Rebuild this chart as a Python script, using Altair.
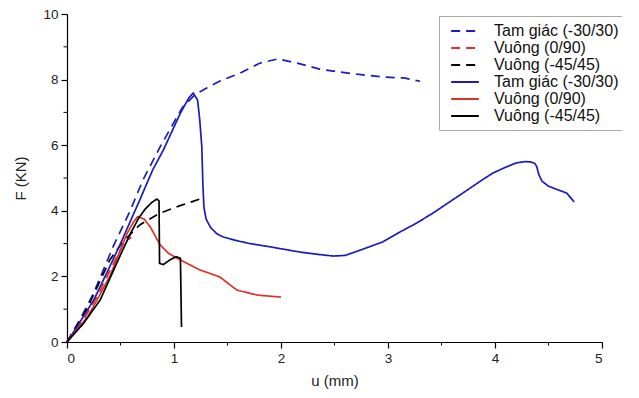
import altair as alt
import pandas as pd

# ---- data ----
series_names = ["Tam giác (-30/30)", "Vuông (0/90)", "Vuông (-45/45)",
                "Tam giác (-30/30) ", "Vuông (0/90) ", "Vuông (-45/45) "]
series_colors = ["#1c1cb8", "#e0302a", "#000000", "#1c1cb8", "#e0302a", "#000000"]
series_dash = [[9, 6], [9, 6], [9, 6], [1, 0], [1, 0], [1, 0]]

tam_dash_u = [0, 0.12, 0.25, 0.34, 0.43, 0.59, 0.71, 0.87, 1.08, 1.2, 1.31, 1.43, 1.62, 1.80, 1.97, 2.18, 2.36, 2.55, 2.75, 2.95, 3.15, 3.3]
tam_dash_F = [0, 0.67, 1.5, 2.2, 2.9, 4.0, 4.94, 5.95, 7.16, 7.55, 7.75, 7.96, 8.2, 8.5, 8.63, 8.48, 8.32, 8.23, 8.15, 8.08, 8.05, 7.95]

vuong90_dash_u = [0, 0.15, 0.3, 0.45, 0.52, 0.6]
vuong90_dash_F = [0, 0.65, 1.5, 2.5, 2.95, 3.2]

vuong45_dash_u = [0, 0.2, 0.4, 0.52, 0.68, 0.87, 1.05, 1.27]
vuong45_dash_F = [0, 1.1, 2.5, 3.05, 3.57, 3.93, 4.15, 4.39]

tam_u = [0, 0.1, 0.25, 0.4, 0.5, 0.68, 0.8, 0.9, 1.06, 1.14, 1.18, 1.22, 1.24, 1.26, 1.27, 1.28, 1.30, 1.34, 1.40, 1.46, 1.6, 1.71, 1.9, 2.18, 2.35, 2.49, 2.6, 2.74, 2.95, 3.11, 3.27, 3.42, 3.58, 3.74, 3.87, 3.98, 4.1, 4.2, 4.28, 4.33, 4.37, 4.39, 4.41, 4.44, 4.5, 4.58, 4.67, 4.74]
tam_F = [0, 0.5, 1.28, 2.3, 3.0, 4.33, 5.24, 5.85, 6.98, 7.45, 7.59, 7.38, 6.8, 5.95, 4.8, 4.1, 3.75, 3.5, 3.3, 3.2, 3.08, 3.0, 2.9, 2.74, 2.67, 2.62, 2.64, 2.8, 3.05, 3.35, 3.63, 3.93, 4.28, 4.63, 4.92, 5.15, 5.33, 5.46, 5.5, 5.49, 5.45, 5.35, 5.1, 4.9, 4.75, 4.65, 4.54, 4.27]

vuong90_u = [0, 0.2, 0.4, 0.56, 0.62, 0.66, 0.72, 0.78, 0.87, 0.95, 1.06, 1.24, 1.43, 1.52, 1.59, 1.78, 2.0]
vuong90_F = [0, 0.8, 2.0, 3.3, 3.65, 3.82, 3.75, 3.5, 2.96, 2.7, 2.5, 2.2, 1.98, 1.75, 1.58, 1.43, 1.37]

vuong45_u = [0, 0.15, 0.31, 0.52, 0.6, 0.67, 0.73, 0.79, 0.84, 0.86, 0.865, 0.9, 0.96, 1.02, 1.06, 1.065, 1.07]
vuong45_F = [0, 0.55, 1.28, 2.8, 3.35, 3.78, 4.05, 4.25, 4.36, 4.3, 2.4, 2.36, 2.5, 2.6, 2.55, 1.5, 0.46]

x_major = [0, 1, 2, 3, 4, 5]
x_minor = [0.5, 1.5, 2.5, 3.5, 4.5]
y_major = [0, 2, 4, 6, 8, 10]
y_minor = [1, 3, 5, 7, 9]

# ---- build table ----
curves = [(tam_dash_u, tam_dash_F), (vuong90_dash_u, vuong90_dash_F), (vuong45_dash_u, vuong45_dash_F),
          (tam_u, tam_F), (vuong90_u, vuong90_F), (vuong45_u, vuong45_F)]
rows = []
for k, (us, fs) in enumerate(curves):
    for i, (u, f) in enumerate(zip(us, fs)):
        rows.append({"series": series_names[k], "u": u, "F": f, "i": i})
df = pd.DataFrame(rows)

W, H = 535, 328
FONT = "Liberation Sans"

xscale = alt.Scale(domain=[0, 5], nice=False)
yscale = alt.Scale(domain=[0, 10], nice=False)

leg = dict(title=None, orient="none", legendX=372, legendY=2,
           symbolType="M-1.75,0H1.75", symbolStrokeWidth=1.8, symbolSize=250,
           symbolOffset=11,
           labelFontSize=16, labelFont=FONT, labelColor="#111",
           strokeColor="#aaaaaa", fillColor="white", padding=6,
           rowPadding=0, labelOffset=20)

lines = alt.Chart(df).mark_line(strokeWidth=1.7).encode(
    x=alt.X("u:Q", scale=xscale, title="u (mm)",
            axis=alt.Axis(values=x_major, format="d", tickSize=6, grid=False, labelPadding=3, titlePadding=9)),
    y=alt.Y("F:Q", scale=yscale, title="F (KN)",
            axis=alt.Axis(values=y_major, format="d", tickSize=6, grid=False, labelPadding=3, titlePadding=14)),
    color=alt.Color("series:N", scale=alt.Scale(domain=series_names, range=series_colors),
                    legend=alt.Legend(**leg)),
    strokeDash=alt.StrokeDash("series:N", scale=alt.Scale(domain=series_names, range=series_dash),
                              legend=alt.Legend(**leg)),
    detail="series:N",
    order="i:Q",
)

xminor = alt.Chart(pd.DataFrame({"v": x_minor})).mark_rule(color="black", strokeWidth=1).encode(
    x=alt.X("v:Q", scale=xscale), y=alt.value(H), y2=alt.value(H + 3.5))
yminor = alt.Chart(pd.DataFrame({"v": y_minor})).mark_rule(color="black", strokeWidth=1).encode(
    y=alt.Y("v:Q", scale=yscale), x=alt.value(-3.5), x2=alt.value(0))

chart = alt.layer(lines, xminor, yminor).properties(
    width=W, height=H,
    autosize=alt.AutoSizeParams(type="none"),
    padding={"left": 59, "top": 6, "right": 20, "bottom": 53},
).configure_view(stroke=None).configure_axis(
    domainColor="black", tickColor="black", labelColor="#222", titleColor="#222",
    labelFont=FONT, titleFont=FONT, labelFontSize=13.5, titleFontSize=15, titleFontWeight="normal",
    domainWidth=1.2, tickWidth=1.2,
)

chart.save("out.html", embed_options={"renderer": "svg", "actions": False})
